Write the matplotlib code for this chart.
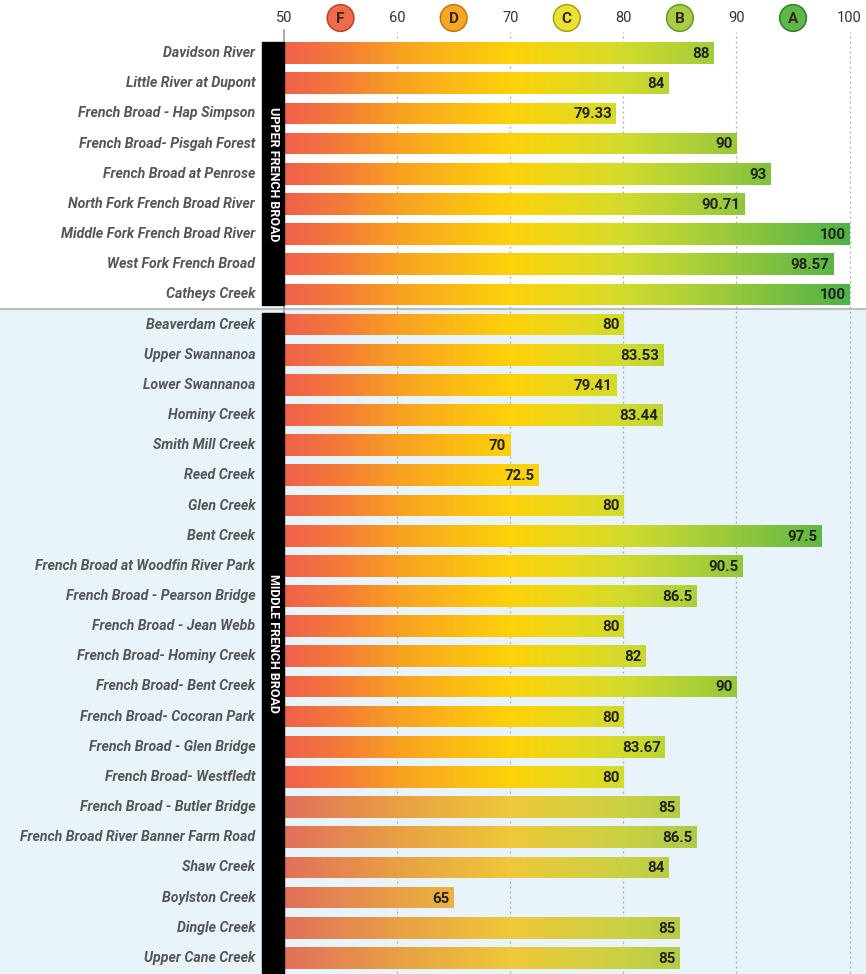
import numpy as np
import matplotlib
matplotlib.use("Agg")
import matplotlib.pyplot as plt
from matplotlib.colors import LinearSegmentedColormap, Normalize
from matplotlib.patches import Rectangle

plt.rcParams["font.family"] = ["Roboto", "DejaVu Sans"]

# --- data ---------------------------------------------------------------
upper_sites = [
    "Davidson River", "Little River at Dupont", "French Broad - Hap Simpson",
    "French Broad- Pisgah Forest", "French Broad at Penrose",
    "North Fork French Broad River", "Middle Fork French Broad River",
    "West Fork French Broad", "Catheys Creek",
]
upper_scores = [88, 84, 79.33, 90, 93, 90.71, 100, 98.57, 100]

middle_sites = [
    "Beaverdam Creek", "Upper Swannanoa", "Lower Swannanoa", "Hominy Creek",
    "Smith Mill Creek", "Reed Creek", "Glen Creek", "Bent Creek",
    "French Broad at Woodfin River Park", "French Broad - Pearson Bridge",
    "French Broad - Jean Webb", "French Broad- Hominy Creek",
    "French Broad- Bent Creek", "French Broad- Cocoran Park",
    "French Broad - Glen Bridge", "French Broad- Westfledt",
    "French Broad - Butler Bridge", "French Broad River Banner Farm Road",
    "Shaw Creek", "Boylston Creek", "Dingle Creek", "Upper Cane Creek",
]
middle_scores = [80, 83.53, 79.41, 83.44, 70, 72.5, 80, 97.5, 90.5, 86.5,
                 80, 82, 90, 80, 83.67, 80, 85, 86.5, 84, 65, 85, 85]
# last six middle sites drawn in a faded tone
middle_faded = [False] * 16 + [True] * 6

grades = ["F", "D", "C", "B", "A"]
grade_pos = [55, 65, 75, 85, 95]
grade_colors = ["#ef6b4c", "#f6a726", "#e9e134", "#a6cd48", "#5db84a"]
grade_edges = ["#b8442c", "#c07810", "#a8a010", "#6e9624", "#347e2a"]
ticks = [50, 60, 70, 80, 90, 100]

sites = upper_sites + middle_sites
scores = np.array(upper_scores + middle_scores)
faded = [False] * len(upper_sites) + middle_faded
n_upper = len(upper_sites)

# --- style --------------------------------------------------------------
cmap = LinearSegmentedColormap.from_list("grade", [
    (0.0, "#f0604c"), (0.1, "#f47c38"), (0.2, "#f8a022"), (0.3, "#fbba16"),
    (0.4, "#fdd20a"), (0.5, "#ead81a"), (0.6, "#d2db2c"), (0.7, "#b4d236"),
    (0.8, "#96c83c"), (0.9, "#72bd42"), (1.0, "#4fb447")])
cmap_faded = LinearSegmentedColormap.from_list("grade_f", [
    (0.0, "#e2705c"), (0.2, "#e8a044"), (0.4, "#efc83a"), (0.6, "#cad144"),
    (0.8, "#a0c648"), (1.0, "#6cb84c")])
norm = Normalize(50, 100)
light_blue = "#e8f4fa"
label_color = "#555555"

W, H = 866, 974
fig = plt.figure(figsize=(W / 100, H / 100), dpi=100)
XMIN, XMAX = 50, 101.45
ax_top_px, ax_bot_px = 38, 973
ax = fig.add_axes([284 / W, 1 - ax_bot_px / H, 1 - 284 / W,
                   (ax_bot_px - ax_top_px) / H])
ax.set_facecolor("none")
for s in ax.spines.values():
    s.set_visible(False)
ax.set_xticks([])
ax.set_yticks([])

n = len(sites)
ypos = np.arange(n)
row_px = (ax_bot_px - ax_top_px) / n
sep_px = 1 - (ax_top_px + n_upper * row_px) / H

# background for middle section, across full figure width
fig.patches.append(Rectangle((0, 0), 1, sep_px, transform=fig.transFigure,
                             color=light_blue, zorder=-10))
fig.lines.append(plt.Line2D([0, 1], [sep_px, sep_px], transform=fig.transFigure,
                            color="#bdbdbd", lw=1.5, zorder=-5))

# grid lines
for t in ticks[1:]:
    ax.plot([t, t], [n - 0.5, -0.7], color="#aaaaaa", lw=0.9, ls=(0, (1.5, 2.5)),
            zorder=0, clip_on=False)
ax.plot([50, 50], [n - 0.5, -0.75], color="#999999", lw=1.2, zorder=3,
        clip_on=False)

# bars with gradient fill
bh = 0.72
bars = ax.barh(ypos, scores - 50, left=50, height=bh, color="none",
               edgecolor="none")
grad = np.linspace(XMIN, XMAX, 512).reshape(1, -1)
for i, bar in enumerate(bars):
    im = ax.imshow(grad, extent=[XMIN, XMAX, i + bh / 2, i - bh / 2],
                   cmap=cmap_faded if faded[i] else cmap, norm=norm,
                   aspect="auto", interpolation="bilinear", zorder=2)
    im.set_clip_path(bar)
    val = scores[i]
    ax.text(val - 0.35, i + 0.03, f"{val:g}", ha="right", va="center",
            fontsize=10.8, color="#222222", fontweight="bold", zorder=4)
    ax.text(47.45, i, sites[i], ha="right", va="center", fontsize=10.2,
            fontweight="bold", fontstyle="italic", color=label_color,
            clip_on=False)

ax.set_xlim(XMIN, XMAX)
ax.set_ylim(n - 0.5, -0.5)

# black section bands
band_x0 = 50 - 22 / 113.2 * 10
for (y0, y1, name) in [(-0.36, n_upper - 0.64, "UPPER FRENCH BROAD"),
                       (n_upper - 0.38, n - 0.5, "MIDDLE FRENCH BROAD")]:
    ax.add_patch(Rectangle((band_x0, y0), 50 - band_x0, y1 - y0, color="black",
                           clip_on=False, zorder=5))
    ax.text((band_x0 + 50) / 2, (y0 + y1) / 2, name, rotation=-90,
            ha="center", va="center", color="white", fontsize=9,
            fontweight="bold", zorder=6, clip_on=False)

# top scale: tick numbers and grade circles
ytop = -0.5 - (ax_top_px - 18) / row_px
for t in ticks:
    ax.text(t, ytop, str(t), ha="center", va="center", fontsize=10.5,
            color="#333333", clip_on=False)
ax.scatter(grade_pos, [ytop] * len(grade_pos), s=370, c=grade_colors,
           edgecolors=grade_edges, linewidths=1.1, clip_on=False, zorder=5)
for g, x in zip(grades, grade_pos):
    ax.text(x, ytop + 0.02, g, ha="center", va="center", fontsize=11,
            fontweight="bold", color="#3a2616", clip_on=False, zorder=6)

fig.savefig("out.png", dpi=100)
